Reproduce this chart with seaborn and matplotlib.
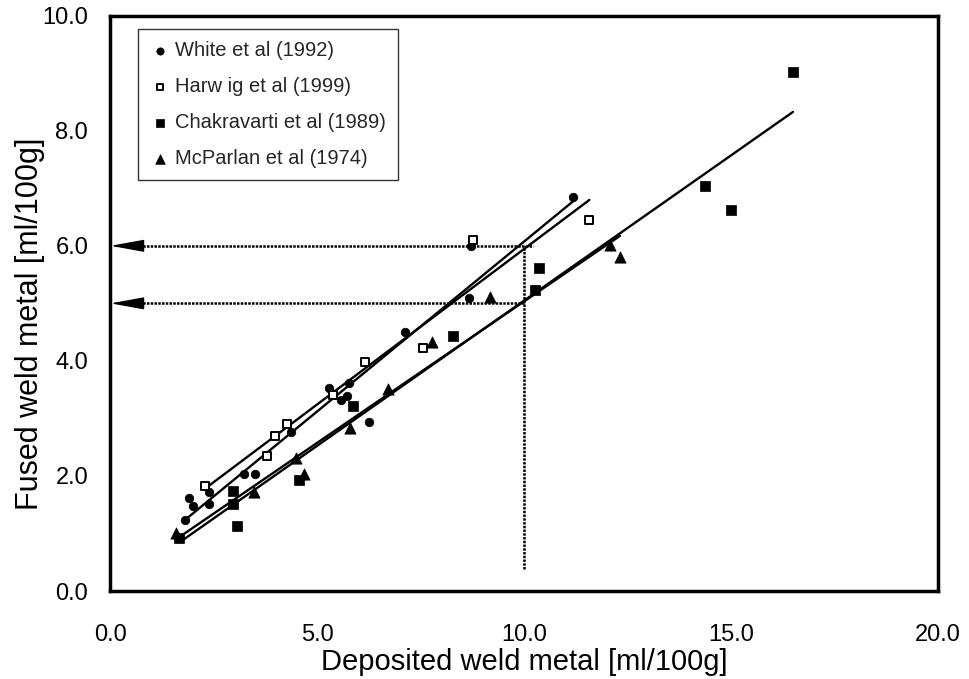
import matplotlib
matplotlib.use("Agg")
import matplotlib.pyplot as plt
import seaborn as sns
import pandas as pd
import numpy as np

# ---------------- data ----------------
white_x = [1.80, 1.90, 2.00, 2.39, 2.39, 3.23, 3.49, 4.36, 5.29, 5.77, 5.57, 5.72, 6.25, 7.11, 8.66, 8.71, 11.18]
white_y = [1.23, 1.62, 1.48, 1.72, 1.52, 2.03, 2.03, 2.77, 3.53, 3.61, 3.32, 3.39, 2.94, 4.50, 5.09, 5.99, 6.84]

harwig_x = [2.28, 3.78, 3.97, 4.27, 5.38, 6.15, 7.56, 8.76, 11.57]
harwig_y = [1.83, 2.35, 2.69, 2.90, 3.40, 3.98, 4.23, 6.10, 6.45]

chakra_x = [1.66, 2.97, 2.97, 3.06, 4.56, 5.86, 8.28, 10.25, 10.36, 14.37, 14.99, 16.49]
chakra_y = [0.92, 1.73, 1.52, 1.13, 1.93, 3.22, 4.44, 5.23, 5.61, 7.04, 6.62, 9.02]

mcp_x = [1.58, 3.47, 4.48, 4.67, 5.79, 6.70, 7.77, 9.17, 12.07, 12.31]
mcp_y = [1.00, 1.72, 2.31, 2.03, 2.83, 3.51, 4.32, 5.11, 6.01, 5.80]

labels = ["White et al (1992)", "Harw ig et al (1999)",
          "Chakravarti et al (1989)", "McParlan et al (1974)"]

ref_x = 10.0
ref_levels = [6.0, 5.0]
ref_line_end = [10.2, 10.0]
ref_bottom = 0.38

x_ticks = [0, 5, 10, 15, 20]
y_ticks = [0, 2, 4, 6, 8, 10]

# ---------------- style ----------------
sns.set_theme(style="white")
plt.rcParams["font.family"] = ["Liberation Sans", "DejaVu Sans"]

fig = plt.figure(figsize=(9.69, 6.79), dpi=100)
ax = fig.add_axes([0.1140, 0.1296, 0.8543, 0.8473])

series = [
    (white_x, white_y, dict(marker="o", s=38, facecolor="black", edgecolor="black", linewidth=0.5)),
    (harwig_x, harwig_y, dict(marker="s", s=32, facecolor="white", edgecolor="black", linewidth=1.4)),
    (chakra_x, chakra_y, dict(marker="s", s=42, facecolor="black", edgecolor="black", linewidth=0.5)),
    (mcp_x, mcp_y, dict(marker="^", s=66, facecolor="black", edgecolor="black", linewidth=0.5)),
]

for (xs, ys, kw), lab in zip(series, labels):
    df = pd.DataFrame({"x": xs, "y": ys})
    sns.regplot(data=df, x="x", y="y", ax=ax, scatter=False, ci=None,
                truncate=True, color="black", line_kws=dict(lw=1.7, zorder=2))
    sns.scatterplot(data=df, x="x", y="y", ax=ax, label=lab, zorder=3, **kw)

# reference arrows / dotted guide lines
dot = (0, (1, 0.5))
for lvl, xend in zip(ref_levels, ref_line_end):
    ax.plot([0.7, xend], [lvl, lvl], color="black", lw=1.8, linestyle=dot, zorder=1)
    ax.annotate("", xy=(0, lvl), xytext=(0.75, lvl),
                arrowprops=dict(arrowstyle="-|>,head_length=21,head_width=3.8",
                                mutation_scale=1, color="black", lw=1.0,
                                shrinkA=0, shrinkB=0))
ax.plot([ref_x, ref_x], [ref_bottom, max(ref_levels)], color="black", lw=1.8,
        linestyle=dot, zorder=1)

ax.set_xlim(0, 20)
ax.set_ylim(0, 10)
ax.set_xticks(x_ticks)
ax.set_yticks(y_ticks)
ax.set_xticklabels([f"{v:.1f}" for v in x_ticks])
ax.set_yticklabels([f"{v:.1f}" for v in y_ticks])
ax.tick_params(axis="both", direction="in", length=5, width=1, color="black",
               labelsize=17, labelcolor="black")
ax.tick_params(axis="y", pad=16)
ax.tick_params(axis="x", pad=24)
for sp in ax.spines.values():
    sp.set_visible(True)
    sp.set_color("black")
    sp.set_linewidth(2.5)

ax.set_xlabel("Deposited weld metal [ml/100g]", fontsize=21, color="black", labelpad=1)
ax.set_ylabel("Fused weld metal [ml/100g]", fontsize=22, color="black")
ax.yaxis.set_label_coords(-0.079, 0.465)

leg = ax.legend(loc="upper left", bbox_to_anchor=(0.033, 0.977), fontsize=14.5,
                frameon=True, fancybox=False, shadow=False, borderpad=0.6,
                labelspacing=0.85, handletextpad=0.25, handlelength=1.0,
                borderaxespad=0, markerscale=0.85)
leg.get_frame().set_edgecolor("black")
leg.get_frame().set_linewidth(1.0)

fig.savefig("out.png", dpi=100)
